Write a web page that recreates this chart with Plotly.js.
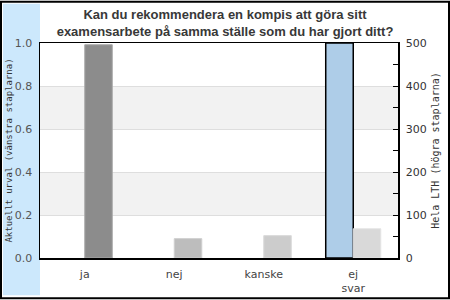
<!DOCTYPE html>
<html>
<head>
<meta charset="utf-8">
<script src="https://cdn.plot.ly/plotly-3.0.1.min.js"></script>
<style>html,body{margin:0;padding:0;background:#fff}#chart{width:450px;height:300px}</style>
</head>
<body>
<div id="chart"></div>
<script>
const categories = ['ja', 'nej', 'kanske', 'ej<br>svar'];
const urvalValues = [0, 0, 0, 1.0];          // Aktuellt urval (vänstra staplarna)
const lthValues = [496, 45, 52, 68];          // Hela LTH (högra staplarna)
const leftTickVals = [0, 0.2, 0.4, 0.6, 0.8, 1.0];
const leftTickText = ['0.0', '0.2', '0.4', '0.6', '0.8', '1.0'];
const rightTickVals = [0, 50, 100, 150, 200, 250, 300, 350, 400, 450, 500];
const rightTickText = ['0', '', '100', '', '200', '', '300', '', '400', '', '500'];

const W = 450, H = 300;
const L = 40, R = 52, T = 42.5, B = 41.5;
const pw = W - L - R, ph = H - T - B;
const px = v => (v - L) / pw;
const py = v => (H - B - v) / ph;

const traces = [
  {
    type: 'bar', x: categories, y: urvalValues, yaxis: 'y', offsetgroup: '1',
    marker: { color: '#aecde8', line: { color: '#000', width: [0, 0, 0, 1.5] } },
    hoverinfo: 'none'
  },
  {
    type: 'bar', x: categories, y: lthValues, yaxis: 'y2', offsetgroup: '2',
    marker: { color: ['#8c8c8c', '#bdbdbd', '#cccccc', '#d9d9d9'],
              line: { color: ['#aaaaaa', '#cfcfcf', '#dadada', '#e4e4e4'], width: 1 } },
    hoverinfo: 'none'
  }
];

const shapes = [
  { type: 'rect', xref: 'paper', yref: 'paper', x0: px(3), x1: 0, y0: py(296), y1: py(3),
    fillcolor: '#cce8fc', line: { width: 0 }, layer: 'below' },
  { type: 'rect', xref: 'paper', yref: 'y', x0: 0, x1: 1, y0: 0.2, y1: 0.4,
    fillcolor: '#f2f2f2', line: { width: 0 }, layer: 'below' },
  { type: 'rect', xref: 'paper', yref: 'y', x0: 0, x1: 1, y0: 0.6, y1: 0.8,
    fillcolor: '#f2f2f2', line: { width: 0 }, layer: 'below' },
  { type: 'rect', xref: 'paper', yref: 'paper', x0: px(1), x1: px(449), y0: py(299), y1: py(1),
    fillcolor: 'rgba(0,0,0,0)', line: { color: '#000', width: 2 } }
];

const layout = {
  width: W, height: H,
  margin: { l: L, r: R, t: T, b: B, pad: 0 },
  paper_bgcolor: '#fff', plot_bgcolor: 'rgba(0,0,0,0)',
  showlegend: false,
  barmode: 'group', bargap: 0.385, bargroupgap: 0,
  title: {
    text: '<b>Kan du rekommendera en kompis att göra sitt<br>examensarbete på samma ställe som du har gjort ditt?</b>',
    font: { family: 'Liberation Sans, Arial, sans-serif', size: 13, color: '#383838' },
    x: 0.5, xref: 'container', xanchor: 'center',
    y: 0.938, yref: 'container', yanchor: 'top'
  },
  xaxis: {
    showline: true, linecolor: '#000', linewidth: 1.5, mirror: true,
    ticks: '', showgrid: false,
    tickfont: { family: 'DejaVu Sans, sans-serif', size: 11, color: '#444' },
    ticklabelstandoff: 5
  },
  yaxis: {
    range: [0, 1], tickvals: leftTickVals, ticktext: leftTickText,
    showline: true, linecolor: '#000', linewidth: 1.5,
    ticks: '', showgrid: true, gridcolor: '#dedede', gridwidth: 1, zeroline: false,
    tickfont: { family: 'DejaVu Sans, sans-serif', size: 11, color: '#555' },
    ticklabelstandoff: 4,
    title: { text: 'Aktuellt urval (vänstra staplarna)', standoff: 0,
             font: { family: 'DejaVu Sans Mono, monospace', size: 9, color: '#333' } }
  },
  yaxis2: {
    range: [0, 500], overlaying: 'y', side: 'right',
    tickvals: rightTickVals, ticktext: rightTickText,
    showline: true, linecolor: '#000', linewidth: 1.5,
    ticks: 'inside', ticklen: 5, tickcolor: '#000', tickwidth: 1,
    showgrid: false, zeroline: false,
    tickfont: { family: 'DejaVu Sans, sans-serif', size: 11, color: '#333' },
    ticklabelstandoff: 4,
    title: { text: 'Hela LTH (högra staplarna)', standoff: 6,
             font: { family: 'DejaVu Sans Mono, monospace', size: 10, color: '#333' } }
  },
  shapes: shapes
};

Plotly.newPlot('chart', traces, layout, { staticPlot: true, displayModeBar: false });
</script>
</body>
</html>
